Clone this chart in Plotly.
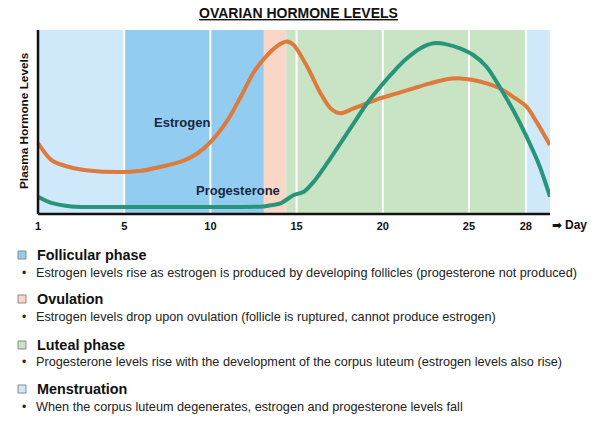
import plotly.graph_objects as go

# ---- data ----
estrogen_day = [0.0, 0.78, 1.75, 3.09, 4.54, 5.98, 7.14, 8.29, 9.26, 10.03, 11.0, 11.76, 12.53, 13.3, 14.07, 14.45,
                14.84, 15.62, 16.39, 16.97, 17.54, 18.31, 19.09, 19.86, 20.82, 21.78, 22.75, 23.71, 24.48, 25.25,
                26.02, 26.79, 27.56, 28.34, 28.91, 29.7]
estrogen_lvl = [38.6, 29.3, 25.7, 23.5, 22.8, 23.5, 25.7, 28.4, 33.0, 39.3, 51.0, 63.7, 77.3, 86.4, 92.5, 93.8,
                91.8, 80.0, 65.6, 57.4, 54.7, 57.4, 60.2, 62.9, 65.6, 68.3, 71.0, 73.2, 73.7, 72.8,
                71.0, 68.3, 63.7, 58.3, 50.2, 37.5]

progesterone_day = [0.0, 0.78, 1.94, 4.83, 9.45, 13.09, 13.6, 14.07, 14.84, 15.42, 16.0, 16.77, 17.54, 18.31,
                    19.09, 19.86, 20.62, 21.4, 22.17, 22.94, 23.71, 24.48, 25.25, 26.02, 26.79, 27.56, 28.34,
                    29.11, 29.7]
progesterone_lvl = [9.4, 6.0, 4.1, 3.8, 3.8, 4.1, 4.9, 5.8, 10.3, 12.1, 17.6, 27.6, 38.4, 49.3,
                    60.2, 69.2, 77.3, 84.6, 90.0, 92.8, 92.2, 90.0, 86.4, 80.0, 68.9, 56.5, 42.0,
                    25.7, 9.4]

phase_names = ["Menstruation", "Follicular phase", "Ovulation", "Luteal phase", "Menstruation"]
phase_start = [0.0, 5.0, 13.1, 14.4, 28.3]
phase_end = [5.0, 13.1, 14.4, 28.3, 29.7]
phase_colors = ["#CFE8FA", "#92CDF1", "#FAD6C6", "#C8E4C4", "#CFE8FA"]

tick_vals = [0, 5, 10, 15, 20, 25, 28.3]
tick_text = ["1", "5", "10", "15", "20", "25", "28"]
white_lines = [5, 10, 15, 20, 25, 28.3]

legend_items = [
    ("Follicular phase", "#92CDF1",
     "Estrogen levels rise as estrogen is produced by developing follicles (progesterone not produced)"),
    ("Ovulation", "#FAD6C6",
     "Estrogen levels drop upon ovulation (follicle is ruptured, cannot produce estrogen)"),
    ("Luteal phase", "#C8E4C4",
     "Progesterone levels rise with the development of the corpus luteum (estrogen levels also rise)"),
    ("Menstruation", "#CFE8FA",
     "When the corpus luteum degenerates, estrogen and progesterone levels fall"),
]

W, H = 600, 442
L, R, T, B = 38, 50, 30, 228
PH = H - T - B  # plot height px
PW = W - L - R


def py(ypx):
    return (H - B - ypx) / PH


def px(xpx):
    return (xpx - L) / PW


FONT = "Liberation Sans, Arial, sans-serif"
ORANGE = "#DE7A3C"
GREEN = "#28957A"

fig = go.Figure()
fig.add_trace(go.Scatter(x=estrogen_day, y=estrogen_lvl, mode="lines",
                         line=dict(color=ORANGE, width=4, shape="spline", smoothing=0.8),
                         hoverinfo="skip", showlegend=False))
fig.add_trace(go.Scatter(x=progesterone_day, y=progesterone_lvl, mode="lines",
                         line=dict(color=GREEN, width=4, shape="spline", smoothing=0.8),
                         hoverinfo="skip", showlegend=False))

shapes = []
for s, e, c in zip(phase_start, phase_end, phase_colors):
    shapes.append(dict(type="rect", xref="x", yref="paper", x0=s, x1=e, y0=0, y1=1,
                       fillcolor=c, line=dict(width=0), layer="below"))
for v in white_lines:
    shapes.append(dict(type="line", xref="x", yref="paper", x0=v, x1=v, y0=0, y1=1,
                       line=dict(color="white", width=2), layer="below"))
# axes lines
shapes.append(dict(type="line", xref="paper", yref="paper", x0=0, x1=1, y0=0, y1=0,
                   line=dict(color="#111111", width=2.5)))
shapes.append(dict(type="line", xref="paper", yref="paper", x0=0, x1=0, y0=0, y1=1,
                   line=dict(color="#111111", width=2.5)))


def ann(text, xpx, ypx, size, color="#111111", xanchor="center", family=FONT, angle=0):
    return dict(text=text, xref="paper", yref="paper", x=px(xpx), y=py(ypx),
                xanchor=xanchor, yanchor="middle", showarrow=False, textangle=angle,
                font=dict(family=family, size=size, color=color))


annotations = [
    ann("<b><u>OVARIAN HORMONE LEVELS</u></b>", 298, 13, 14),
    ann("<b>Plasma Hormone Levels</b>", 24, 121, 11.8, angle=-90),
    ann("<b>Estrogen</b>", 182, 122, 13, color="#1B2640"),
    ann("<b>Progesterone</b>", 238, 190, 13, color="#1B2640"),
    ann("<b>➡</b>", 557, 225, 12, family="DejaVu Sans, " + FONT),
    ann("<b>Day</b>", 563, 225, 12, xanchor="left"),
]

head_y = [255, 299, 345, 389]
bul_y = [273, 317, 362, 407]
for (name, col, desc), hy, by in zip(legend_items, head_y, bul_y):
    shapes.append(dict(type="rect", xref="paper", yref="paper",
                       x0=px(18), x1=px(26), y0=py(hy + 4), y1=py(hy - 4),
                       fillcolor=col, line=dict(color="#8A8A8A", width=1)))
    annotations.append(ann("<b>" + name + "</b>", 35, hy, 14.4, xanchor="left"))
    annotations.append(ann("•", 24, by, 12, color="#222222"))
    annotations.append(ann(desc, 34, by, 12.7, color="#222222", xanchor="left"))

fig.update_layout(
    width=W, height=H,
    margin=dict(l=L, r=R, t=T, b=B, pad=0),
    paper_bgcolor="white", plot_bgcolor="white",
    shapes=shapes, annotations=annotations,
    xaxis=dict(range=[0, 29.7], tickvals=tick_vals, ticktext=["<b>%s</b>" % t for t in tick_text],
               showgrid=False, zeroline=False, showline=False, ticks="", ticklen=0,
               ticklabelstandoff=4,
               tickfont=dict(family=FONT, size=11, color="#111111")),
    yaxis=dict(range=[0, 100], showticklabels=False, showgrid=False, zeroline=False,
               showline=False, ticks=""),
)

fig.write_html("out.html")
